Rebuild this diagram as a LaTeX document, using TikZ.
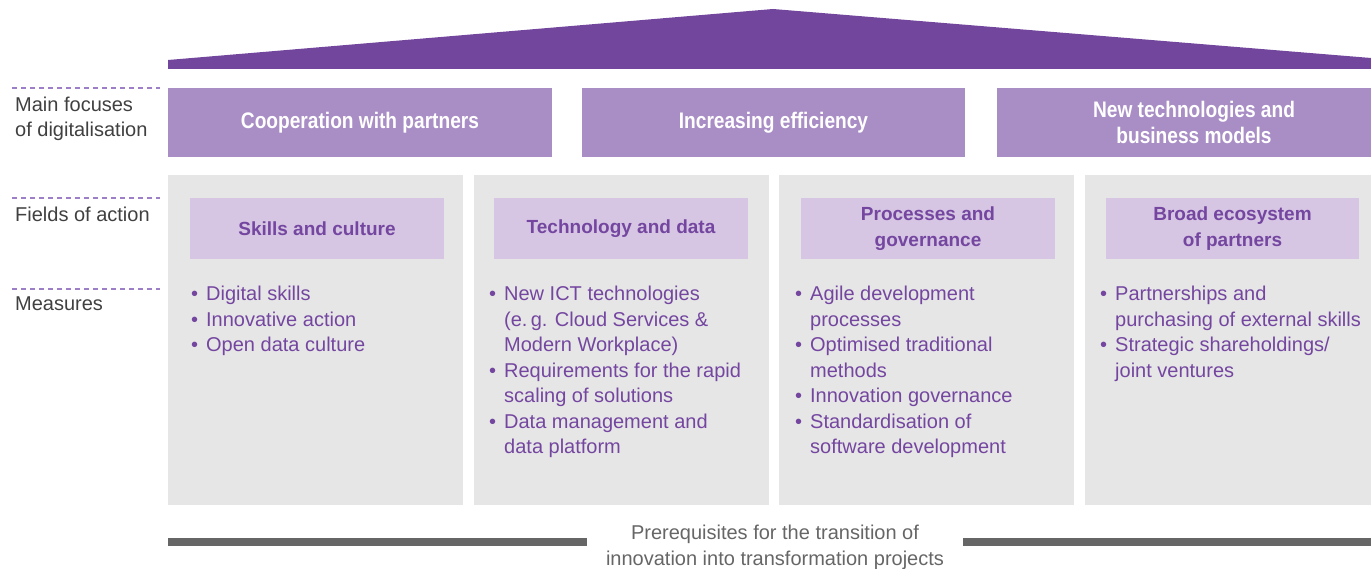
\documentclass[tikz,border=0pt]{standalone}
\usepackage{fontspec}
\setmainfont{Liberation Sans}
\newfontfamily\narrowfont{Liberation Sans}[FakeStretch=0.85]
\usetikzlibrary{positioning}
\definecolor{roofpurple}{HTML}{72469C}
\definecolor{focuspurple}{HTML}{A98EC6}
\definecolor{fieldlilac}{HTML}{D6C6E3}
\definecolor{pillargrey}{HTML}{E6E6E6}
\definecolor{textpurple}{HTML}{7446A0}
\definecolor{basegrey}{HTML}{666666}
\definecolor{labelgrey}{HTML}{404040}
\definecolor{dashpurple}{HTML}{9C7FC6}
\newcommand{\bul}{\makebox[15pt][l]{\textbullet}}
\newcommand{\ind}{\hspace*{15pt}}

\begin{document}
\begin{tikzpicture}[x=1pt, y=-1pt,
		focusbox/.style = {fill=focuspurple, text=white, inner sep=0pt, align=center, font=\narrowfont\bfseries\fontsize{22.5}{26}\selectfont},
		pillar/.style = {fill=pillargrey, inner sep=0pt, minimum height=330pt},
		fieldbox/.style = {fill=fieldlilac, text=textpurple, inner sep=0pt, minimum height=61pt, align=center, font=\bfseries\fontsize{19}{26}\selectfont},
		measures/.style = {anchor=north west, inner sep=0pt, align=left, text=textpurple, font=\fontsize{20}{25.5}\selectfont},
		rowlabel/.style = {anchor=base west, inner sep=0pt, align=left, text=labelgrey, font=\fontsize{20}{25}\selectfont},
		dashline/.style = {dashpurple, line width=1.2pt, dash pattern=on 5pt off 4pt}
	]
	\useasboundingbox (0,0) rectangle (1371,569);
	% roof
	\fill[roofpurple] (168,69) -- (168,60) -- (773,9) -- (1371,58) -- (1371,69) -- cycle;
	% main focuses
	\node[focusbox, minimum width=384pt, minimum height=69pt] (coop) at (360,122.5) {Cooperation with partners};
	\node[focusbox, minimum width=383pt, minimum height=69pt] (effic) at (773.5,122.5) {Increasing efficiency};
	\node[focusbox, minimum width=394pt, minimum height=69pt] (newtech) at (1194,122.5) {New technologies and\\business models};
	% pillars and fields of action
	\foreach \nm/\px/\pw/\fx/\fw/\title[count=\i] in {skills/315.5/295/317/254/{Skills and culture},
			techdata/621.5/295/621/254/{Technology and data},
			procgov/926.5/295/928/254/{Processes and\\governance},
			ecosys/1228/286/1232.5/253/{Broad ecosystem\\of partners}}{
		\node[pillar, minimum width=\pw pt] (pillar-\nm) at (\px,340) {};
		\node[fieldbox, minimum width=\fw pt] (field-\nm) at (\fx,228.5) {\title};
	}
	% measures
	\node[measures] (meas-skills) at (191,286) {\bul Digital skills\\\bul Innovative action\\\bul Open data culture};
	\node[measures] (meas-techdata) at (489,286) {\bul New ICT technologies\\\ind(e.\,g. Cloud Services \&\\\ind Modern Workplace)\\\bul Requirements for the rapid\\\ind scaling of solutions\\\bul Data management and\\\ind data platform};
	\node[measures] (meas-procgov) at (795,286) {\bul Agile development\\\ind processes\\\bul Optimised traditional\\\ind methods\\\bul Innovation governance\\\bul Standardisation of\\\ind software development};
	\node[measures] (meas-ecosys) at (1100,286) {\bul Partnerships and\\\ind purchasing of external skills\\\bul Strategic shareholdings/\\\ind joint ventures};
	% row labels
	\draw[dashline] (12,88) -- (160,88);
	\draw[dashline] (12,198) -- (160,198);
	\draw[dashline] (12,289) -- (160,289);
	\node[rowlabel] (lbl-focus) at (15,137) {Main focuses\\of digitalisation};
	\node[rowlabel] (lbl-fields) at (15,222) {Fields of action};
	\node[rowlabel] (lbl-measures) at (15,311) {Measures};
	% foundation
	\fill[basegrey] (168,538) rectangle (587,546);
	\fill[basegrey] (963,538) rectangle (1371,546);
	\node[align=center, inner sep=0pt, text=basegrey, font=\fontsize{20}{25.5}\selectfont] (prereq) at (775,547.5) {Prerequisites for the transition of\\innovation into transformation projects};
\end{tikzpicture}
\end{document}
